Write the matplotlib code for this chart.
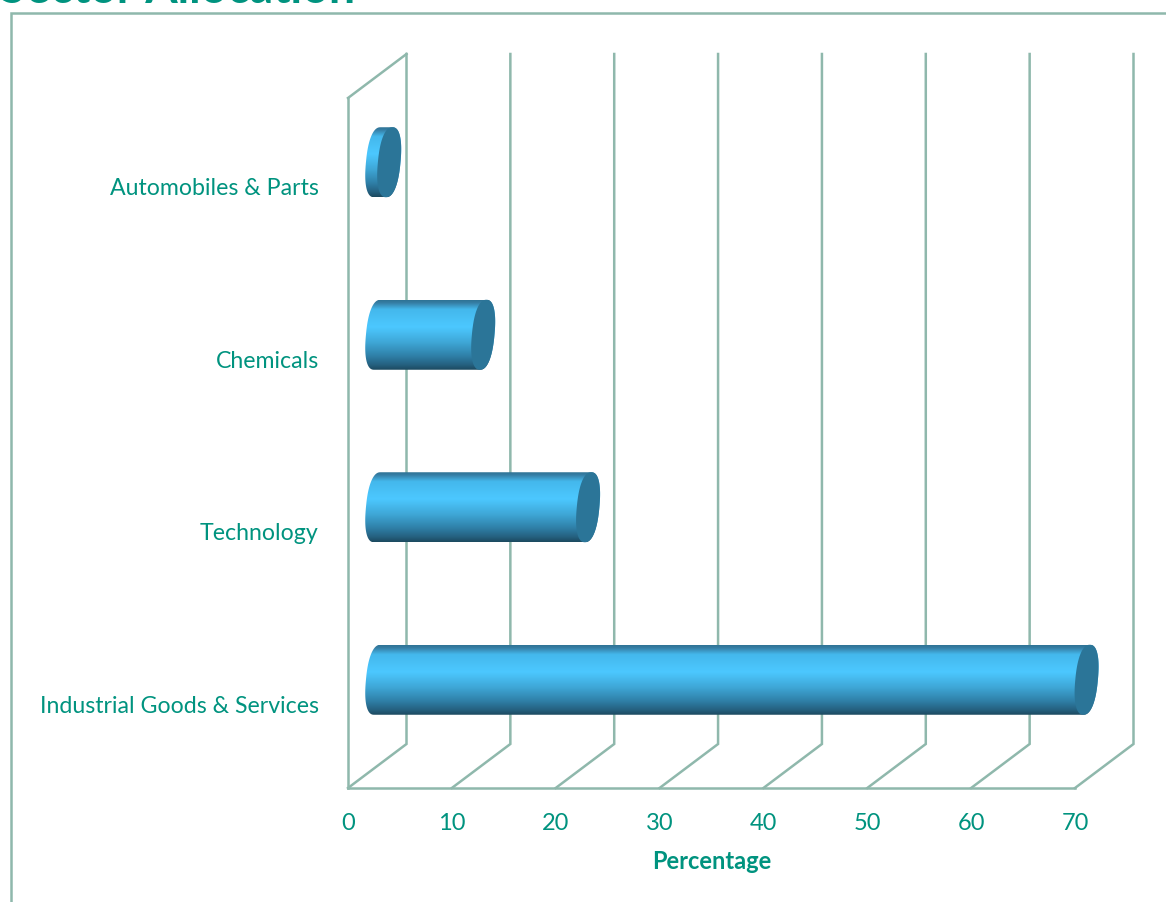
import numpy as np
import matplotlib
matplotlib.use("Agg")
import matplotlib.pyplot as plt
from matplotlib.colors import LinearSegmentedColormap
from matplotlib.patches import PathPatch, Rectangle
from matplotlib.path import Path
from matplotlib.transforms import ScaledTranslation

categories = ["Industrial Goods & Services", "Technology", "Chemicals", "Automobiles & Parts"]
values = [68.3, 20.3, 10.2, 1.15]
x_ticks = [0, 10, 20, 30, 40, 50, 60, 70]
title = "Sector Allocation"
x_label = "Percentage"

TEXT = "#00937f"
LINE = "#8fb8ac"
CAP = "#2b7598"
FONT = "Lato"

W, H = 1166, 903
fig = plt.figure(figsize=(W / 100, H / 100), dpi=100)
ax = fig.add_axes([348 / W, (H - 789) / H, 727 / W, 690 / H])
ax.set_xlim(0, 70)
ax.set_ylim(-0.5, 3.5)

px_x = 70 / 727
px_y = 4 / 690
depth_x, depth_y = 58.5 * px_x, 44 * px_y
y0, y1 = -0.5, 3.5

# walls and gridlines
for t in x_ticks:
    ax.plot([t, t + depth_x, t + depth_x], [y0, y0 + depth_y, y1 + depth_y],
            color=LINE, lw=1.8, clip_on=False, zorder=1, solid_joinstyle="miter")
ax.plot([0, depth_x], [y1, y1 + depth_y], color=LINE, lw=1.8, clip_on=False, zorder=1,
        solid_capstyle="projecting")
for s in ("top", "right"):
    ax.spines[s].set_visible(False)
for s in ("left", "bottom"):
    ax.spines[s].set_color(LINE)
    ax.spines[s].set_linewidth(1.8)

# cylinders
stops = [(0.0, "#2f7396"), (0.04, "#367fa6"), (0.13, "#44b8ec"), (0.38, "#4cc8ff"),
         (0.6, "#3fa8d8"), (0.8, "#2f80a8"), (0.93, "#25607f"), (1.0, "#1c4a60")]
cmap = LinearSegmentedColormap.from_list("cyl", stops)
grad = np.linspace(0, 1, 128).reshape(-1, 1)

half_h = 35 * px_y
a, s = 11.3 * px_x, 3.2 * px_x
shift_x, shift_y = depth_x / 2, depth_y / 2
P = 0.85


def ellipse_pts(cx, cy, t):
    c, n = np.cos(t), np.sin(t)
    c2 = np.sign(c) * np.abs(c) ** P
    n2 = np.sign(n) * np.abs(n) ** P
    return np.column_stack([cx + a * c2 + s * n2, cy + half_h * n2])


for i, v in enumerate(values):
    cy = i + shift_y
    x_start = shift_x
    x_end = v + shift_x
    left = ellipse_pts(x_start, cy, np.linspace(np.pi / 2, 3 * np.pi / 2, 60))
    right = ellipse_pts(x_end, cy, np.linspace(-np.pi / 2, np.pi / 2, 60))
    body = np.vstack([left, right, left[:1]])
    path = Path(body)
    im = ax.imshow(grad, cmap=cmap, aspect="auto", origin="upper",
                   extent=(x_start - 2 * a, x_end + 2 * a, cy - half_h, cy + half_h),
                   zorder=3, interpolation="bilinear")
    clip = PathPatch(path, transform=ax.transData, fc="none", ec="none")
    ax.add_patch(clip)
    im.set_clip_path(clip)
    im.set_clip_box(fig.bbox)
    cap = ellipse_pts(x_end, cy, np.linspace(0, 2 * np.pi, 160))
    ax.fill(cap[:, 0], cap[:, 1], color=CAP, lw=0, zorder=4, clip_on=False)

ax.set_xlim(0, 70)
ax.set_ylim(-0.5, 3.5)

ax.set_xticks(x_ticks)
ax.set_xticklabels([str(t) for t in x_ticks], fontsize=17, color=TEXT, family=FONT)
ax.set_yticks(range(len(categories)))
ax.set_yticklabels(categories, fontsize=16.7, color=TEXT, family=FONT)
ax.tick_params(axis="both", length=0)
ax.tick_params(axis="x", pad=17)
ax.tick_params(axis="y", pad=21)
nudge = ScaledTranslation(0, -1.5 / 100, fig.dpi_scale_trans)
for lab in ax.get_yticklabels():
    lab.set_transform(lab.get_transform() + nudge)
ax.set_xlabel(x_label, fontsize=17, fontweight="bold", color=TEXT, family=FONT, labelpad=12)

# frame and clipped heading
fig.add_artist(Rectangle((11 / W, -0.05), 1.2, (H - 14) / H + 0.05, transform=fig.transFigure,
                         fc="none", ec=LINE, lw=1.8))
fig.text(0 / W, (H - 3) / H, title, fontsize=33.5, fontweight="bold", color=TEXT,
         family=FONT, ha="left", va="baseline")

fig.savefig("out.png", dpi=100)
